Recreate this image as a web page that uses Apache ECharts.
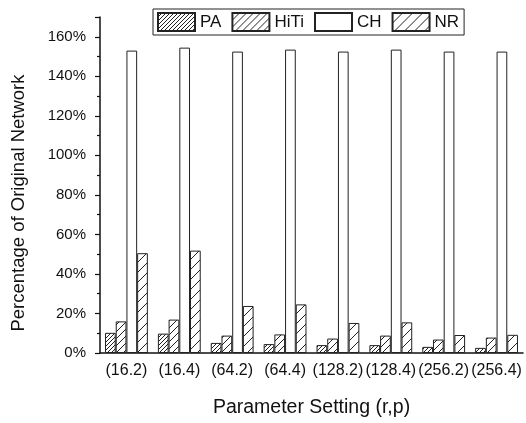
<!DOCTYPE html>
<html>
<head>
<meta charset="utf-8">
<script src="https://cdn.jsdelivr.net/npm/echarts@6/dist/echarts.min.js"></script>
<style>
html,body{margin:0;padding:0;background:#fff;}
#chart{width:526px;height:423px;}
</style>
</head>
<body>
<div id="chart"></div>
<script>
const categories = ['(16.2)', '(16.4)', '(64.2)', '(64.4)', '(128.2)', '(128.4)', '(256.2)', '(256.4)'];
const seriesNames = ['PA', 'HiTi', 'CH', 'NR'];
const paValues = [10.2, 9.8, 5.1, 4.5, 4.0, 4.0, 3.1, 2.6];
const hitiValues = [16.0, 16.9, 8.8, 9.4, 7.3, 8.8, 6.8, 7.8];
const chValues = [153.0, 154.5, 152.5, 153.5, 152.5, 153.5, 152.5, 152.5];
const nrValues = [50.5, 51.8, 23.8, 24.6, 15.2, 15.5, 9.1, 9.2];
const yTicks = [0, 20, 40, 60, 80, 100, 120, 140, 160];

function hatch(s, lw, color) {
  const c = document.createElement('canvas');
  c.width = s; c.height = s;
  const ctx = c.getContext('2d');
  ctx.fillStyle = '#fff';
  ctx.fillRect(0, 0, s, s);
  ctx.strokeStyle = color;
  ctx.lineWidth = lw;
  ctx.beginPath();
  ctx.moveTo(-1, s + 1); ctx.lineTo(s + 1, -1);
  ctx.moveTo(-1, 1); ctx.lineTo(1, -1);
  ctx.moveTo(s - 1, s + 1); ctx.lineTo(s + 1, s - 1);
  ctx.stroke();
  return { image: c, repeat: 'repeat' };
}

const fills = [hatch(4, 1, '#222'), hatch(7, 1, '#222'), '#ffffff', hatch(10, 1, '#222')];
const values = [paValues, hitiValues, chValues, nrValues];

const chart = echarts.init(document.getElementById('chart'), null, { renderer: 'canvas' });
const font = 'Liberation Sans, Arial, sans-serif';

chart.setOption({
  animation: false,
  backgroundColor: '#fff',
  textStyle: { fontFamily: font, color: '#111' },
  grid: { left: 100, right: 3, top: 17, bottom: 65, containLabel: false },
  legend: {
    data: seriesNames,
    left: 153, top: 9,
    orient: 'horizontal',
    padding: [3, 5, 3, 4],
    itemWidth: 37, itemHeight: 18, itemGap: 10,
    icon: 'rect',
    borderColor: '#222', borderWidth: 1,
    textStyle: { fontFamily: font, fontSize: 17, color: '#111', padding: [0, 0, 0, 0] }
  },
  xAxis: [{
    type: 'category',
    data: categories,
    axisLine: { lineStyle: { color: '#111', width: 1.5 } },
    axisTick: { alignWithLabel: true, length: 6, lineStyle: { color: '#111', width: 1.2 } },
    axisLabel: { fontFamily: font, fontSize: 16, color: '#111', margin: 10, interval: 0 },
    name: 'Parameter Setting (r,p)',
    nameLocation: 'middle',
    nameGap: 45,
    nameTextStyle: { fontFamily: font, fontSize: 19.5, color: '#111', verticalAlign: 'top' }
  }, {
    type: 'category',
    data: categories,
    position: 'bottom',
    axisLine: { show: false },
    axisTick: { length: 4, lineStyle: { color: '#111', width: 1.2 } },
    axisLabel: { show: false }
  }],
  yAxis: {
    type: 'value',
    min: 0, max: 170, interval: 20,
    axisLine: { show: true, lineStyle: { color: '#111', width: 1.5 } },
    axisTick: { show: true, length: 5, lineStyle: { color: '#111', width: 1.2 } },
    minorTick: { show: true, splitNumber: 2, length: 3, lineStyle: { color: '#111', width: 1.2 } },
    splitLine: { show: false },
    axisLabel: {
      fontFamily: font, fontSize: 15, color: '#111', margin: 14,
      formatter: function (v) { return yTicks.indexOf(v) >= 0 ? v + '%' : ''; }
    },
    name: 'Percentage of Original Network',
    nameLocation: 'middle',
    nameGap: 72,
    nameTextStyle: { fontFamily: font, fontSize: 18.5, color: '#111', padding: [0, 36, 0, 0] }
  },
  series: seriesNames.map(function (n, i) {
    return {
      name: n,
      type: 'bar',
      xAxisIndex: 0,
      data: values[i],
      barGap: '0%',
      barCategoryGap: '19%',
      itemStyle: { color: fills[i], borderColor: '#222', borderWidth: 1 }
    };
  })
});
</script>
</body>
</html>
